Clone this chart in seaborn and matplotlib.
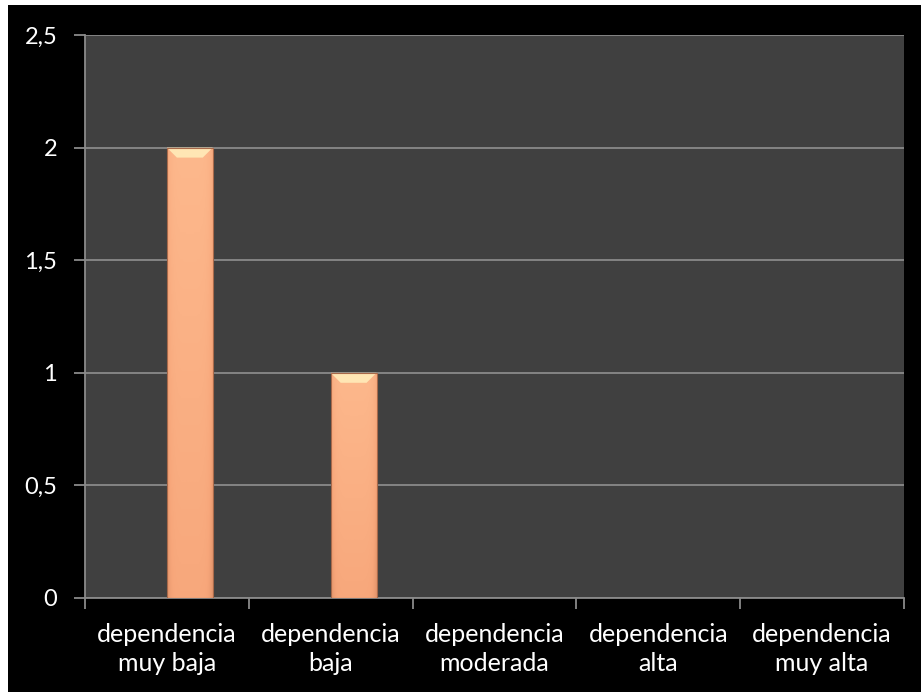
import numpy as np
import pandas as pd
import matplotlib
matplotlib.use("Agg")
import matplotlib.pyplot as plt
import seaborn as sns
from matplotlib.patches import Rectangle, Polygon
from matplotlib.colors import LinearSegmentedColormap

# Data
categorias = ["dependencia\nmuy baja", "dependencia\nbaja", "dependencia\nmoderada",
              "dependencia\nalta", "dependencia\nmuy alta"]
serie_vacia = [np.nan, np.nan, np.nan, np.nan, np.nan]
serie_valores = [2, 1, 0, 0, 0]
series = ["Serie 1", "Serie 2"]
y_ticks = [0, 0.5, 1, 1.5, 2, 2.5]
y_labels = ["0", "0,5", "1", "1,5", "2", "2,5"]

df = pd.DataFrame({
    "categoria": categorias * 2,
    "serie": [series[0]] * 5 + [series[1]] * 5,
    "valor": serie_vacia + serie_valores,
})

sns.set_theme(style="dark")
plt.rcParams["font.family"] = ["Lato", "DejaVu Sans"]

fig = plt.figure(figsize=(9.21, 6.92), dpi=100, facecolor="white")
# black frame behind the chart
fig.patches.append(Rectangle((8 / 921, 0), 913 / 921, 687 / 692, transform=fig.transFigure,
                             facecolor="black", edgecolor="none", zorder=-10))
ax = fig.add_axes([85 / 921, 1 - 598 / 692, 819 / 921, 563 / 692])
ax.set_facecolor("#404040")

sns.barplot(data=df, x="categoria", y="valor", hue="serie", hue_order=series,
            order=categorias, palette=["#F5A478", "#F5A478"], width=0.56,
            linewidth=0, legend=False, ax=ax, zorder=3)

ax.set_ylim(0, 2.5)
ax.set_xlim(-0.5, 4.5)
ax.set_yticks(y_ticks)
ax.set_yticklabels(y_labels)
ax.yaxis.grid(True, color="#8a8a8a", linewidth=1.3, zorder=1)
ax.xaxis.grid(False)
ax.set_axisbelow(True)
ax.set_xlabel("")
ax.set_ylabel("")

for side in ["top", "right"]:
    ax.spines[side].set_visible(False)
for side in ["left", "bottom"]:
    ax.spines[side].set_visible(True)
    ax.spines[side].set_color("#8a8a8a")
    ax.spines[side].set_linewidth(1.3)

ax.tick_params(axis="y", which="major", length=8, width=1.3, color="#8a8a8a",
               labelcolor="white", labelsize=17, pad=12, left=True, direction="out")
ax.tick_params(axis="x", which="major", length=0, labelcolor="white", labelsize=18, pad=18)
ax.set_xticks(np.arange(-0.5, 5.0, 1.0), minor=True)
ax.tick_params(axis="x", which="minor", length=8, width=1.3, color="#8a8a8a", bottom=True,
               direction="out")
for lab in ax.get_xticklabels():
    lab.set_linespacing(1.3)

# shading for each bar: vertical/horizontal gradient plus a light bevel at the top
cmap = LinearSegmentedColormap.from_list("melocoton", ["#D48760", "#F7A67A", "#FDB88C"])
fig.canvas.draw()
xs = np.linspace(-1, 1, 60)
ys = np.linspace(0, 1, 200)
X, Y = np.meshgrid(xs, ys)
shade = 0.55 + 0.45 * Y - 0.35 * np.abs(X) ** 6
inv = ax.transData.inverted()
p0 = inv.transform((0, 0))
p1 = inv.transform((10, 10))
dx, dy = p1[0] - p0[0], p1[1] - p0[1]
for p in list(ax.patches):
    h = p.get_height()
    if not np.isfinite(h) or h <= 0:
        continue
    x0, w = p.get_x(), p.get_width()
    im = ax.imshow(shade, cmap=cmap, vmin=0, vmax=1, origin="lower", aspect="auto",
                   extent=(x0, x0 + w, 0, h), zorder=4, interpolation="bilinear")
    im.set_clip_path(p)
    # bevel at the top of the bar, 10 px deep
    ax.add_patch(Polygon([(x0, h), (x0 + w, h), (x0 + w - dx, h - dy), (x0 + dx, h - dy)],
                         closed=True, facecolor="#FFE6B4", edgecolor="none", zorder=5))
    ax.add_patch(Rectangle((x0, 0), w, h, facecolor="none", edgecolor="#A8694A",
                           linewidth=0.8, zorder=6))

ax.set_xlim(-0.5, 4.5)
ax.set_ylim(0, 2.5)
fig.savefig("out.png", dpi=100, facecolor=fig.get_facecolor())
